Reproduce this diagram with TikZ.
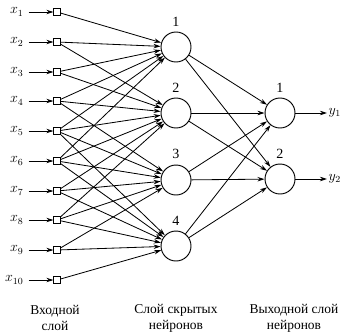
\documentclass[tikz,border=0pt]{standalone}
\usepackage{fontspec}
\setmainfont{Liberation Serif}
\usetikzlibrary{arrows.meta}
\tikzset{
  inp/.style={draw, rectangle, minimum size=5.5pt, inner sep=0pt, line width=0.7pt},
  neuron/.style={draw, circle, minimum size=0.9cm, inner sep=0pt, line width=0.8pt},
  xlab/.style={anchor=east, inner sep=1pt, font=\large},
  ylab/.style={anchor=west, inner sep=1pt, font=\large},
  caption/.style={align=center, font=\fontsize{11.5}{13.5}\selectfont}
}
\begin{document}
\begin{tikzpicture}[x=0.03cm, y=-0.03cm, line width=0.7pt, >={Stealth[length=6pt,width=3.8pt]}]
  \useasboundingbox (0,0) rectangle (345,332);
  % inputs
  \node[xlab] (x1) at (25,12) {$x_1$};
  \node[xlab] (x2) at (25,42) {$x_2$};
  \node[xlab] (x3) at (25,72) {$x_3$};
  \node[xlab] (x4) at (25,101) {$x_4$};
  \node[xlab] (x5) at (25,131) {$x_5$};
  \node[xlab] (x6) at (25,161) {$x_6$};
  \node[xlab] (x7) at (25,191) {$x_7$};
  \node[xlab] (x8) at (25,220) {$x_8$};
  \node[xlab] (x9) at (25,250) {$x_9$};
  \node[xlab] (x10) at (25,280) {$x_{10}$};
  \node[inp] (S1) at (57,12) {};
  \node[inp] (S2) at (57,42) {};
  \node[inp] (S3) at (57,72) {};
  \node[inp] (S4) at (57,101) {};
  \node[inp] (S5) at (57,131) {};
  \node[inp] (S6) at (57,161) {};
  \node[inp] (S7) at (57,191) {};
  \node[inp] (S8) at (57,220) {};
  \node[inp] (S9) at (57,250) {};
  \node[inp] (S10) at (57,280) {};
  % hidden and output neurons
  \node[neuron, label={[font=\large, label distance=1pt]above:1}] (H1) at (176,47) {};
  \node[neuron, label={[font=\large, label distance=1pt]above:2}] (H2) at (176,113) {};
  \node[neuron, label={[font=\large, label distance=1pt]above:3}] (H3) at (176,180) {};
  \node[neuron, label={[font=\large, label distance=1pt]above:4}] (H4) at (176,246) {};
  \node[neuron, label={[font=\large, label distance=1pt]above:1}] (O1) at (280,113) {};
  \node[neuron, label={[font=\large, label distance=1pt]above:2}] (O2) at (280,179) {};
  \node[ylab] (y1) at (327,113) {$y_1$};
  \node[ylab] (y2) at (327,179) {$y_2$};

  \path[->, shorten <=3pt] (x1) edge (S1) (x2) edge (S2) (x3) edge (S3) (x4) edge (S4) (x5) edge (S5);
  \path[->, shorten <=3pt] (x6) edge (S6) (x7) edge (S7) (x8) edge (S8) (x9) edge (S9) (x10) edge (S10);
  \path[->] (S1) edge (H1);
  \path[->] (S2) edge (H1) edge (H2);
  \path[->] (S3) edge (H1) edge (H2);
  \path[->] (S4) edge (H1) edge (H2) edge (H3);
  \path[->] (S5) edge (H1) edge (H2) edge (H3) edge (H4);
  \path[->] (S6) edge (H1) edge (H2) edge (H3) edge (H4);
  \path[->] (S7) edge (H2) edge (H3) edge (H4);
  \path[->] (S8) edge (H2) edge (H3) edge (H4);
  \path[->] (S9) edge (H3) edge (H4);
  \path[->] (S10) edge (H4);
  \path[->] (H1) edge (O1) edge (O2);
  \path[->] (H2) edge (O1) edge (O2);
  \path[->] (H3) edge (O1) edge (O2);
  \path[->] (H4) edge (O1) edge (O2);
  \path[->] (O1) edge (y1);
  \path[->] (O2) edge (y2);

  \node[caption] (L1) at (55,318) {Входной\\слой};
  \node[caption] (L2) at (176,318) {Слой скрытых\\нейронов};
  \node[caption] (L3) at (294,318) {Выходной слой\\нейронов};
\end{tikzpicture}
\end{document}
